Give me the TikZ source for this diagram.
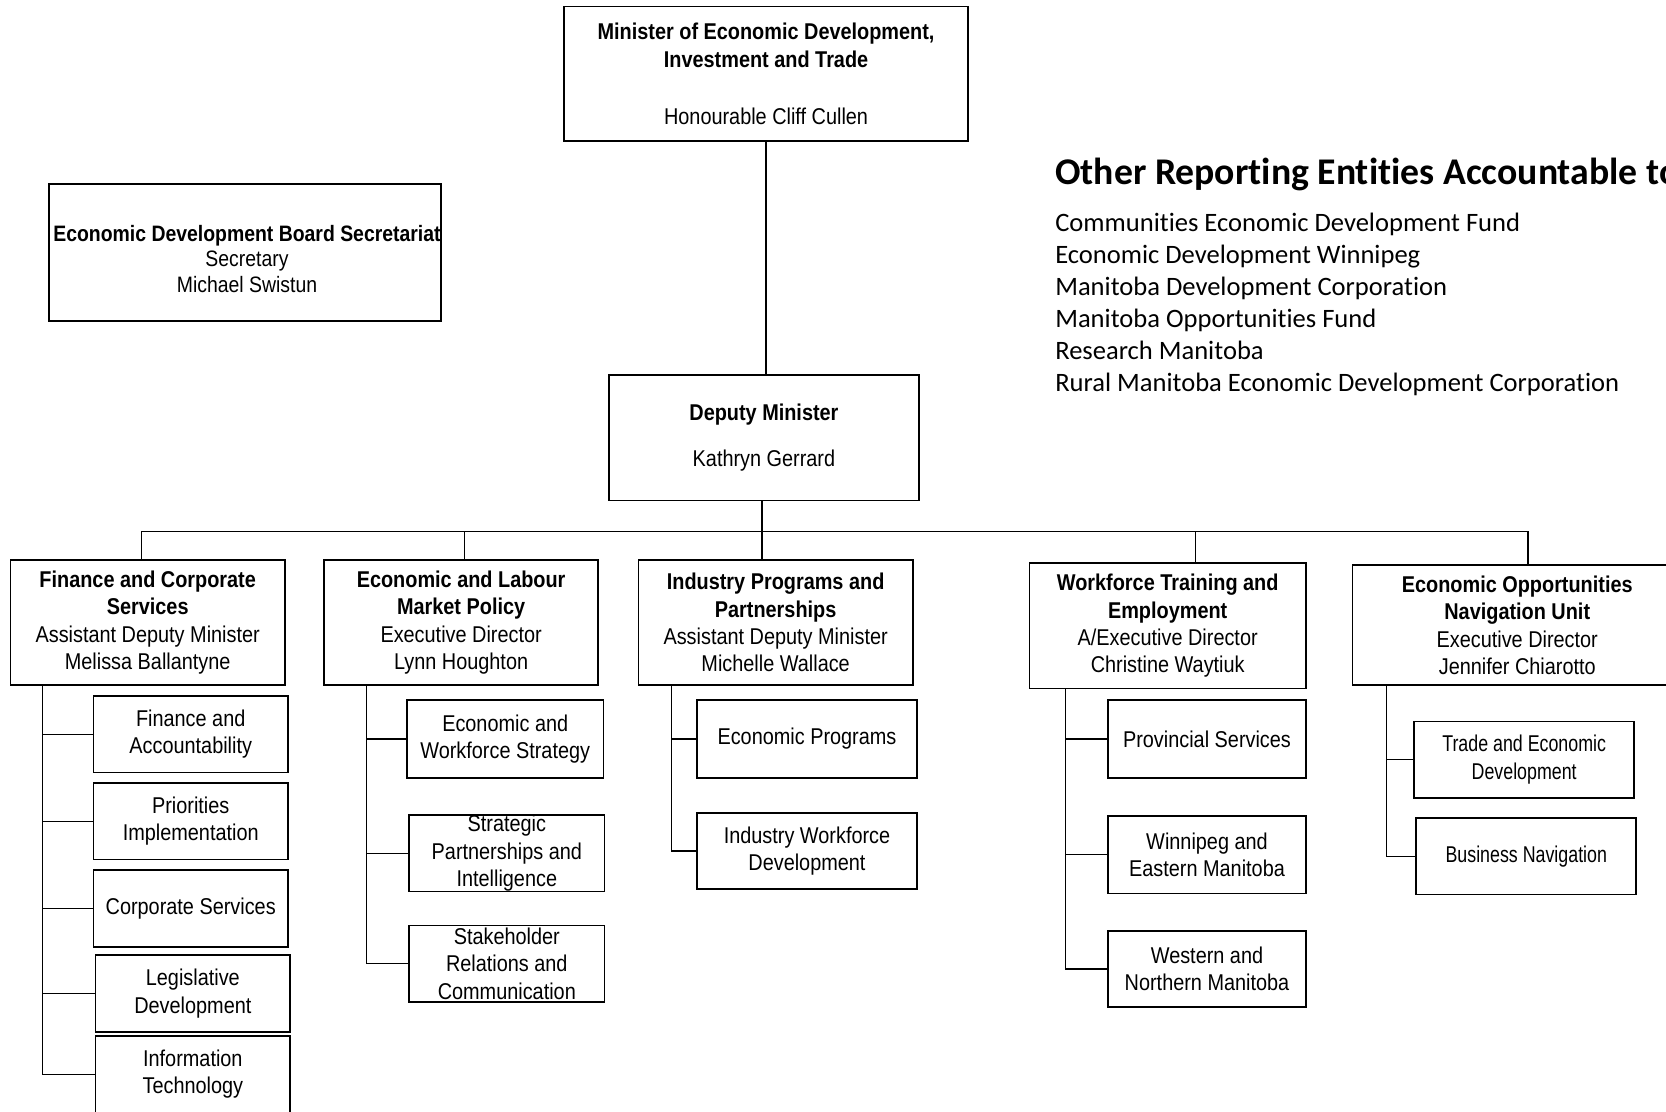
\documentclass[tikz,border=0pt]{standalone}
\usepackage{fontspec}
\newfontfamily\nar{Liberation Sans}[FakeStretch=0.87]
\newfontfamily\narr{Liberation Sans}[FakeStretch=0.78]
\newfontfamily\calib{Carlito}[Ligatures=NoCommon]
\begin{document}
\begin{tikzpicture}[x=1pt,y=-1pt,
  box/.style={draw, line width=1.6pt, inner sep=0pt, align=center,
    font=\nar\fontsize{21.5}{25.7}\selectfont},
  conn/.style={line width=1.3pt}]
\useasboundingbox (0,0) rectangle (1568,1046);
\clip (0,0) rectangle (1568,1046);
\fill[white] (0,0) rectangle (1568,1046);

% top level
\node[box, minimum width=380pt, minimum height=127pt] (min) at (721,69.5)
  {\bfseries Minister of Economic Development,\\ \bfseries Investment and Trade\\[28pt] Honourable Cliff Cullen};
\node[box, minimum width=292pt, minimum height=118pt] (dep) at (719,412)
  {\bfseries Deputy Minister\\[17pt] Kathryn Gerrard};
\node[box, minimum width=369pt, minimum height=129pt] (edb) at (230.5,237.5) {};
\node[align=center, inner sep=0pt, font=\nar\fontsize{21}{24}\selectfont] (edbtext) at ([xshift=2pt,yshift=-6pt]edb.center)
  {\bfseries Economic Development Board Secretariat\\ Secretary\\ Michael Swistun};

% other reporting entities
\node[anchor=west, inner sep=0pt, font=\calib\bfseries\fontsize{35.5}{40}\selectfont] (oretitle) at (993,164)
  {Other Reporting Entities Accountable to};
\node[anchor=north west, inner sep=0pt, align=left, font=\calib\fontsize{25}{30.2}\selectfont] (orelist) at (993,200)
  {Communities Economic Development Fund\\ Economic Development Winnipeg\\ Manitoba Development Corporation\\ Manitoba Opportunities Fund\\ Research Manitoba\\ Rural Manitoba Economic Development Corporation};

% second level
\node[box, minimum width=258pt, minimum height=118pt] (fcs) at (139,586)
  {\bfseries Finance and Corporate\\ \bfseries Services\\ Assistant Deputy Minister\\ Melissa Ballantyne};
\node[box, minimum width=258pt, minimum height=118pt] (elmp) at (434,586)
  {\bfseries Economic and Labour\\ \bfseries Market Policy\\ Executive Director\\ Lynn Houghton};
\node[box, minimum width=258pt, minimum height=118pt] (ipp) at (730,586)
  {\bfseries Industry Programs and\\ \bfseries Partnerships\\ Assistant Deputy Minister\\ Michelle Wallace};
\node[box, minimum width=260pt, minimum height=118pt] (wte) at (1099,589)
  {\bfseries Workforce Training and\\ \bfseries Employment\\ A/Executive Director\\ Christine Waytiuk};
\node[box, minimum width=310pt, minimum height=113pt] (eonu) at (1428,588.5)
  {\bfseries Economic Opportunities\\ \bfseries Navigation Unit\\ Executive Director\\ Jennifer Chiarotto};

% third level: finance and corporate services
\node[box, minimum width=183pt, minimum height=72pt] (fa) at (179.5,691) {Finance and\\ Accountability};
\node[box, minimum width=183pt, minimum height=72pt] (pi) at (179.5,773) {Priorities\\ Implementation};
\node[box, minimum width=183pt, minimum height=72pt] (cs) at (179.5,855) {Corporate Services};
\node[box, minimum width=183pt, minimum height=72pt] (ld) at (181.5,935) {Legislative\\ Development};
\node[box, minimum width=183pt, minimum height=72pt] (it) at (181.5,1011) {Information\\ Technology};

% economic and labour market policy
\node[box, minimum width=185pt, minimum height=73pt] (ews) at (475.5,695.5) {Economic and\\ Workforce Strategy};
\node[box, minimum width=184pt, minimum height=72pt] (spi) at (477,803) {Strategic\\ Partnerships and\\ Intelligence};
\node[box, minimum width=184pt, minimum height=72pt] (src) at (477,907) {Stakeholder\\ Relations and\\ Communication};

% industry programs and partnerships
\node[box, minimum width=207pt, minimum height=73pt] (ep) at (759.5,695.5) {Economic Programs};
\node[box, minimum width=207pt, minimum height=72pt] (iwd) at (759.5,801) {Industry Workforce\\ Development};

% workforce training and employment
\node[box, minimum width=186pt, minimum height=73pt] (ps) at (1136,695.5) {Provincial Services};
\node[box, minimum width=186pt, minimum height=73pt] (wem) at (1136,804.5) {Winnipeg and\\ Eastern Manitoba};
\node[box, minimum width=186pt, minimum height=72pt] (wnm) at (1136,912) {Western and\\ Northern Manitoba};

% economic opportunities navigation unit
\node[box, minimum width=207pt, minimum height=72pt, font=\narr\fontsize{21.5}{25.7}\selectfont] (ted) at (1434.5,715) {Trade and Economic\\ Development};
\node[box, minimum width=207pt, minimum height=72pt, font=\narr\fontsize{21.5}{25.7}\selectfont] (bn) at (1436.5,806) {Business Navigation};

% connectors
\draw[conn] (min.south) -- (min.south |- dep.north);
\coordinate (b1) at (133,500);
\coordinate (b2) at (437,500);
\coordinate (b3) at (717,500);
\coordinate (b4) at (1125,500);
\coordinate (b5) at (1438,500);
\draw[conn] (dep.south -| b3) -- (b3);
\draw[conn] (b1) -- (b5);
\draw[conn] (b1) -- (b1 |- fcs.north);
\draw[conn] (b2) -- (b2 |- elmp.north);
\draw[conn] (b3) -- (b3 |- ipp.north);
\draw[conn] (b4) -- (b4 |- wte.north);
\draw[conn] (b5) -- (b5 |- eonu.north);

\coordinate (s1) at (40,0);
\coordinate (s2) at (345,0);
\coordinate (s3) at (632,0);
\coordinate (s4) at (1003,0);
\coordinate (s5) at (1305,0);
\draw[conn] (s1 |- fcs.south) |- (it.west);
\foreach \c in {fa,pi,cs,ld} \draw[conn] (s1 |- \c.west) -- (\c.west);
\draw[conn] (s2 |- elmp.south) |- (src.west);
\foreach \c in {ews,spi} \draw[conn] (s2 |- \c.west) -- (\c.west);
\draw[conn] (s3 |- ipp.south) |- (iwd.west);
\draw[conn] (s3 |- ep.west) -- (ep.west);
\draw[conn] (s4 |- wte.south) |- (wnm.west);
\foreach \c in {ps,wem} \draw[conn] (s4 |- \c.west) -- (\c.west);
\draw[conn] (s5 |- eonu.south) |- (bn.west);
\draw[conn] (s5 |- ted.west) -- (ted.west);
\end{tikzpicture}
\end{document}
